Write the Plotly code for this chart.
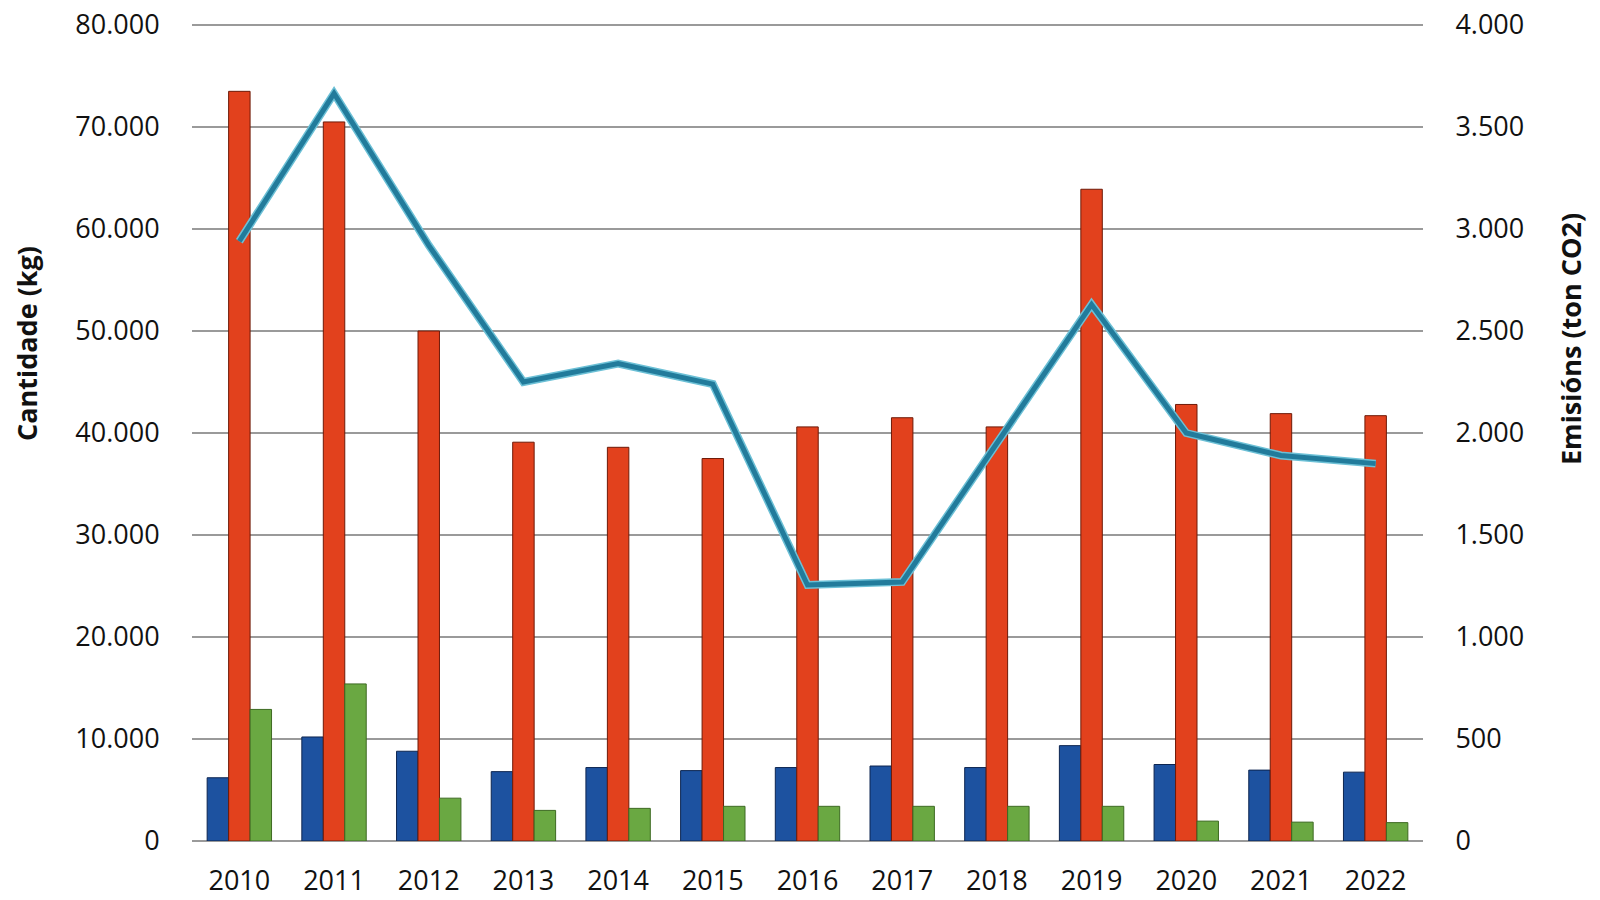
import plotly.graph_objects as go

years = ["2010", "2011", "2012", "2013", "2014", "2015", "2016",
         "2017", "2018", "2019", "2020", "2021", "2022"]
blue_vals = [6200, 10200, 8800, 6800, 7200, 6900, 7200, 7350, 7200, 9350, 7500, 6950, 6750]
red_vals = [73500, 70500, 50000, 39100, 38600, 37500, 40600, 41500, 40600, 63900, 42800, 41900, 41700]
green_vals = [12900, 15400, 4200, 3000, 3200, 3400, 3400, 3400, 3400, 3400, 1950, 1850, 1800]
emissions = [2940, 3665, 2920, 2250, 2340, 2240, 1255, 1270, 1950, 2630, 2000, 1890, 1850]

left_ticks = [0, 10000, 20000, 30000, 40000, 50000, 60000, 70000, 80000]
right_ticks = [0, 500, 1000, 1500, 2000, 2500, 3000, 3500, 4000]

FONT = "Open Sans"
GRID = "#9a9a9a"

fig = go.Figure()
fig.add_trace(go.Bar(x=years, y=blue_vals, name="Serie 1",
                     marker=dict(color="#1d52a0", line=dict(color="#0d2550", width=1))))
fig.add_trace(go.Bar(x=years, y=red_vals, name="Serie 2",
                     marker=dict(color="#e2411d", line=dict(color="#6e1a08", width=1))))
fig.add_trace(go.Bar(x=years, y=green_vals, name="Serie 3",
                     marker=dict(color="#6aa842", line=dict(color="#3d6a22", width=1))))
fig.add_trace(go.Scatter(x=years, y=emissions, yaxis="y2", mode="lines",
                         name="Emisións halo",
                         line=dict(color="#6cc0d6", width=8), hoverinfo="skip"))
fig.add_trace(go.Scatter(x=years, y=emissions, yaxis="y2", mode="lines",
                         name="Emisións",
                         line=dict(color="#227b9b", width=5)))

fig.update_layout(
    width=1600, height=900,
    margin=dict(l=192, r=177, t=23, b=59, autoexpand=False),
    paper_bgcolor="white", plot_bgcolor="white",
    barmode="group", bargap=0.32, bargroupgap=0,
    showlegend=False,
    separators=",.",
    font=dict(family=FONT, size=27, color="#111111"),
    xaxis=dict(type="category", showgrid=False, showline=False, zeroline=False,
               automargin=False,
               ticks="outside", ticklen=16, tickcolor="rgba(0,0,0,0)",
               tickfont=dict(family=FONT, size=27, color="#111111")),
    yaxis=dict(range=[0, 80200], tickvals=left_ticks, tickformat=",.0f",
               automargin=False,
               showgrid=True, gridcolor=GRID, gridwidth=2,
               zeroline=True, zerolinecolor=GRID, zerolinewidth=2, showline=False,
               ticks="outside", ticklen=26, tickcolor="rgba(0,0,0,0)",
               tickfont=dict(family=FONT, size=27, color="#111111")),
    yaxis2=dict(range=[0, 4010], tickvals=right_ticks, tickformat=",.0f",
                automargin=False,
                overlaying="y", side="right", showgrid=False,
                zeroline=False, showline=False,
                ticks="outside", ticklen=26, tickcolor="rgba(0,0,0,0)",
                tickfont=dict(family=FONT, size=27, color="#111111")),
    annotations=[
        dict(text="<b>Cantidade (kg)</b>", xref="paper", yref="paper",
             x=(27 - 192) / 1231, y=(841 - 344) / 818, textangle=-90, showarrow=False,
             xanchor="center", yanchor="middle",
             font=dict(family=FONT, size=27, color="#111111")),
        dict(text="<b>Emisións (ton CO2)</b>", xref="paper", yref="paper",
             x=(1570 - 192) / 1231, y=(841 - 339) / 818, textangle=-90, showarrow=False,
             xanchor="center", yanchor="middle",
             font=dict(family=FONT, size=27, color="#111111")),
    ],
)

fig.write_html("out.html")
